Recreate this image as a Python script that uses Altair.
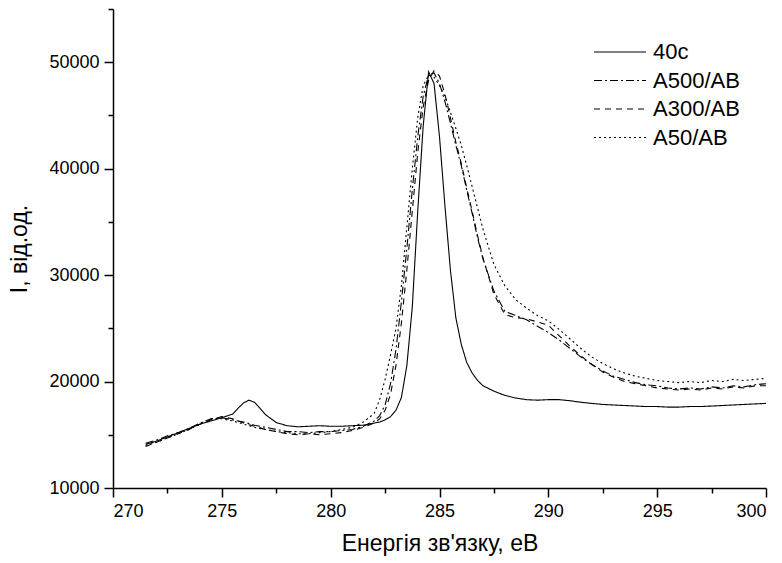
import altair as alt
import pandas as pd

energy = [271.5, 272, 272.5, 273, 273.5, 274, 274.5, 275, 275.5, 275.75, 276, 276.25, 276.5, 276.75,
          277, 277.5, 278, 278.5, 279, 279.5, 280, 280.5, 281, 281.5, 282,
          282.25, 282.5, 282.75, 283, 283.25, 283.5, 283.75, 284, 284.25, 284.5, 284.75, 285,
          285.25, 285.5, 285.75, 286, 286.25, 286.5, 286.75, 287,
          287.5, 288, 288.5, 289, 289.5, 290, 290.5, 291, 291.5, 292, 292.5, 293, 293.5, 294,
          294.5, 295, 295.5, 296, 296.5, 297, 297.5, 298, 298.5, 299, 299.5, 300]

i_40c = [14100, 14400, 14800, 15200, 15600, 16000, 16300, 16600, 16950, 17500, 18000, 18250, 18050, 17500,
         16900, 16150, 15850, 15750, 15800, 15850, 15800, 15800, 15850, 15900, 16100,
         16200, 16400, 16700, 17300, 18500, 21500, 27000, 36000, 44000, 49100, 48000, 43000,
         36500, 30500, 26000, 23500, 21800, 20800, 20100, 19600,
         19100, 18700, 18450, 18300, 18250, 18300, 18300, 18200, 18050, 17950, 17850, 17800, 17750, 17700,
         17650, 17650, 17600, 17600, 17650, 17650, 17700, 17750, 17800, 17850, 17900, 17950]

i_a500 = [14200, 14500, 14900, 15200, 15600, 16100, 16500, 16600, 16400, 16300, 16200, 16050, 15900, 15800,
          15700, 15500, 15300, 15300, 15200, 15300, 15300, 15400, 15500, 15800, 16300,
          16800, 17800, 19800, 23000, 27500, 32500, 38000, 43000, 46800, 48800, 49000, 48000,
          46300, 44300, 42200, 40300, 38000, 35800, 33500, 31500,
          28500, 26600, 26200, 25800, 25200, 24600, 23900, 23100, 22300, 21600, 21000, 20500, 20200, 19900,
          19700, 19600, 19400, 19300, 19400, 19300, 19500, 19400, 19600, 19500, 19700, 19800]

i_a300 = [13900, 14300, 14700, 15100, 15500, 16000, 16400, 16700, 16500, 16300, 16100, 15950, 15800, 15650,
          15500, 15300, 15100, 15000, 15100, 15000, 15100, 15200, 15400, 15700, 16100,
          16500, 17300, 18800, 21500, 25500, 30500, 36000, 41500, 45800, 48300, 49200, 48700,
          47000, 44800, 42500, 40500, 38200, 36000, 33700, 31600,
          28200, 26300, 26000, 25900, 25600, 25300, 24300, 23300, 22400, 21600, 20900, 20400, 20000, 19800,
          19600, 19400, 19300, 19200, 19300, 19200, 19400, 19300, 19500, 19400, 19600, 19600]

i_a50 = [14000, 14300, 14700, 15100, 15500, 16000, 16500, 16500, 16300, 16150, 16000, 15850, 15700, 15600,
         15500, 15300, 15200, 15100, 15100, 15200, 15300, 15500, 15700, 16200, 17000,
         18300, 20200, 22500, 25000, 29000, 34500, 40000, 44800, 47800, 48800, 48600, 47800,
         46800, 45300, 43800, 42200, 40300, 38300, 36300, 34300,
         31000, 29000, 27700, 26900, 26200, 25700, 24900, 24000, 23100, 22300, 21700, 21200, 20800, 20500,
         20300, 20100, 20000, 19900, 20000, 19900, 20100, 20000, 20200, 20100, 20200, 20300]

series = ["40c", "A500/AB", "A300/AB", "A50/AB"]
dash_styles = [[1, 0], [8, 3, 2, 3], [6, 5], [2, 3]]

x_major = [270, 275, 280, 285, 290, 295, 300]
x_minor = [272.5, 277.5, 282.5, 287.5, 292.5, 297.5]
y_major = [10000, 20000, 30000, 40000, 50000]
y_minor = [15000, 25000, 35000, 45000, 55000]

rows = []
for name, vals in zip(series, [i_40c, i_a500, i_a300, i_a50]):
    for e, v in zip(energy, vals):
        rows.append({"E": e, "I": v, "s": name})
df = pd.DataFrame(rows)

FONT = "Liberation Sans"
x_scale = alt.Scale(domain=[270, 300], nice=False, zero=False)
y_scale = alt.Scale(domain=[10000, 55000], nice=False, zero=False)

minor = alt.Chart(df).mark_point(opacity=0).encode(
    x=alt.X("E:Q", scale=x_scale,
            axis=alt.Axis(values=x_minor, labels=False, domain=False, grid=False, tickSize=5,
                          tickWidth=1.5, tickColor="black", title=None, orient="bottom")),
    y=alt.Y("I:Q", scale=y_scale,
            axis=alt.Axis(values=y_minor, labels=False, domain=False, grid=False, tickSize=5,
                          tickWidth=1.5, tickColor="black", title=None, orient="left")),
)

main = alt.Chart(df).mark_line(color="black", strokeWidth=1.1).encode(
    x=alt.X("E:Q", scale=x_scale,
            axis=alt.Axis(values=x_major, format="d", grid=False, tickSize=9, tickWidth=1.5,
                          tickColor="black", domainColor="black", domainWidth=1.5,
                          labelFont=FONT, labelFontSize=18, labelColor="black", labelPadding=5,
                          title="Енергія зв'язку, еВ", titleFont=FONT, titleFontSize=23,
                          titleFontWeight="normal", titleColor="black", titlePadding=12,
                          orient="bottom")),
    y=alt.Y("I:Q", scale=y_scale,
            axis=alt.Axis(values=y_major, format="d", grid=False, tickSize=9, tickWidth=1.5,
                          tickColor="black", domainColor="black", domainWidth=1.5,
                          labelFont=FONT, labelFontSize=18, labelColor="black", labelPadding=5,
                          title="I, від.од.", titleFont=FONT, titleFontSize=23,
                          titleFontWeight="normal", titleColor="black", titlePadding=17,
                          orient="left")),
    strokeDash=alt.StrokeDash(
        "s:N",
        scale=alt.Scale(domain=series, range=dash_styles),
        legend=alt.Legend(title=None, orient="none", legendX=480, legendY=33, padding=0,
                          symbolType="stroke", symbolSize=2700, symbolStrokeWidth=1.2,
                          symbolStrokeColor="black", labelFont=FONT, labelFontSize=22,
                          labelColor="black", labelOffset=6, clipHeight=20, rowPadding=6.5),
    ),
    order=alt.Order("E:Q"),
)

chart = alt.layer(minor, main).resolve_axis(x="independent", y="independent").properties(
    width=653, height=479,
    padding={"left": 113, "top": 9, "right": 16, "bottom": 75},
    autosize=alt.AutoSizeParams(type="none"),
    background="white",
).configure_view(stroke=None)

chart.save("out.html", embed_options={"renderer": "svg", "actions": False})
